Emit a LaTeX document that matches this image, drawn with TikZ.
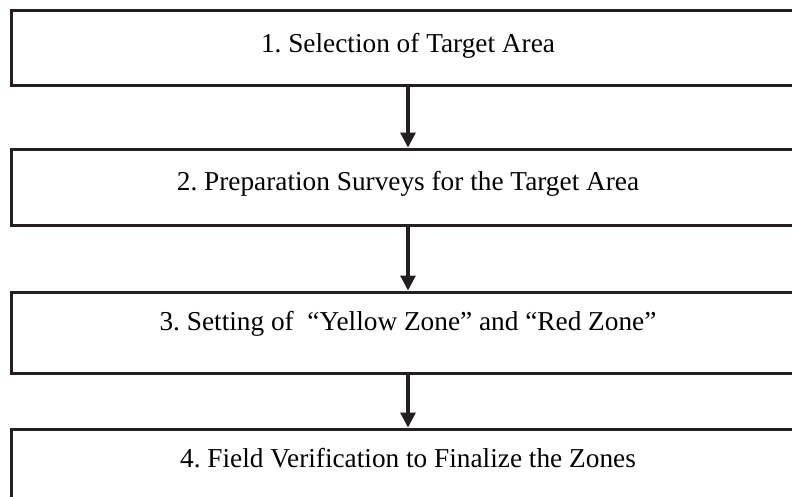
\documentclass[tikz,border=0pt]{standalone}
\usepackage{fontspec}
\setmainfont{Liberation Serif}
\usetikzlibrary{arrows.meta}
\definecolor{ink}{RGB}{35,31,32}
\frenchspacing
\begin{document}
\begin{tikzpicture}[x=1pt,y=-1pt,
  stepbox/.style={draw=ink,line width=3pt,rectangle,inner sep=0pt,minimum width=794pt},
  steptext/.style={anchor=base,font=\fontsize{27.3}{30}\selectfont,text=black,inner sep=0pt},
  flow/.style={draw=ink,line width=3.2pt,-{Triangle[width=15pt,length=15pt]}}]
\useasboundingbox (0,0) rectangle (792,496);
\clip (0,0) rectangle (792,496);
\fill[white] (0,0) rectangle (792,496);
\node[stepbox,minimum height=75pt] (b1) at (408,47.5) {};
\node[stepbox,minimum height=76pt] (b2) at (408,187) {};
\node[stepbox,minimum height=81pt] (b3) at (408,332.5) {};
\node[stepbox,minimum height=78pt] (b4) at (408,468) {};
\node[steptext] (t1) at (408,52) {1. Selection of Target Area};
\node[steptext] (t2) at (408,190) {2. Preparation Surveys for the Target Area};
\node[steptext] (t3) at (408,330) {3. Setting of\ \ “Yellow Zone” and “Red Zone”};
\node[steptext] (t4) at (408,467) {4. Field Verification to Finalize the Zones};
\draw[flow] (b1.south) -- (b2.north);
\draw[flow] (b2.south) -- (b3.north);
\draw[flow] (b3.south) -- (b4.north);
\end{tikzpicture}
\end{document}
